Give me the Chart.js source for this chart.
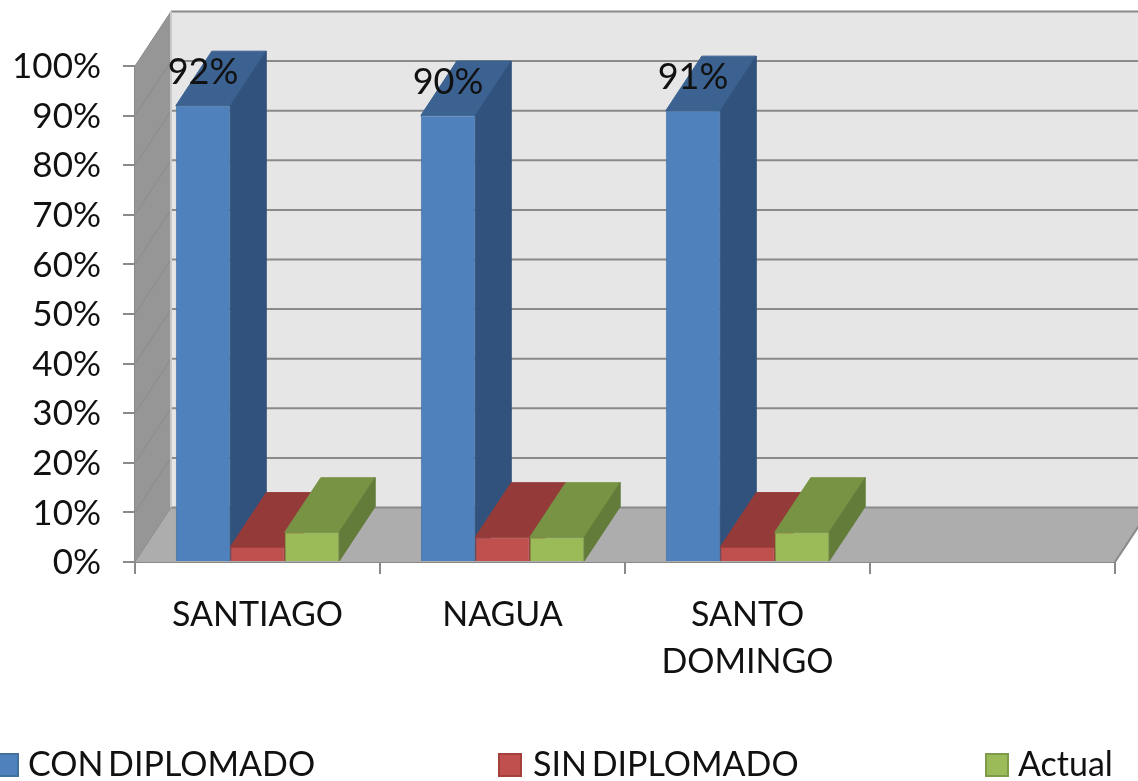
<!DOCTYPE html>
<html>
<head>
<meta charset="utf-8">
<style>
  body { margin: 0; background: #fff; }
  canvas { display: block; }
</style>
<script src="https://cdn.jsdelivr.net/npm/chart.js@4"></script>
</head>
<body>
<canvas id="chart" width="1138" height="781"></canvas>
<script>
// Chart data
const categories = ['SANTIAGO', 'NAGUA', ['SANTO', 'DOMINGO'], ''];
const conDiplomado = [92, 90, 91, null];
const sinDiplomado = [3, 5, 3, null];
const actual = [6, 5, 6, null];
const seriesNames = ['CON DIPLOMADO', 'SIN DIPLOMADO', 'Actual'];

// Colours per series: front, top and side faces
const frontColors = ['#4f81bd', '#c0504d', '#9bbb59'];
const edgeColors = ['#41719f', '#a53f3c', '#7f9a48'];
const topColors = ['#3b6291', '#943b39', '#789344'];
const sideColors = ['#30527c', '#7f3331', '#647c39'];

const FONT = 'Lato, "Open Sans", sans-serif';
const DEPTH_X = 36;
const DEPTH_Y = -54.5;

function poly(ctx, points, fill, stroke) {
    ctx.beginPath();
    points.forEach((p, i) => i ? ctx.lineTo(p[0], p[1]) : ctx.moveTo(p[0], p[1]));
    ctx.closePath();
    ctx.fillStyle = fill;
    ctx.fill();
    if (stroke) {
        ctx.strokeStyle = stroke;
        ctx.lineWidth = 1;
        ctx.stroke();
    }
}

// Walls, floor and the extruded faces of the bars
const box3d = {
    id: 'box3d',
    beforeDatasetsDraw(chart) {
        const { ctx, chartArea: a, scales: { y } } = chart;
        const backLeft = a.left + DEPTH_X;
        const backRight = a.right + DEPTH_X;
        const backTop = a.top + DEPTH_Y;
        const backBottom = a.bottom + DEPTH_Y;
        ctx.save();
        poly(ctx, [[backLeft, backTop], [backRight, backTop], [backRight, backBottom], [backLeft, backBottom]], '#e6e6e6');
        poly(ctx, [[a.left, a.top], [backLeft, backTop], [backLeft, backBottom], [a.left, a.bottom]], '#969696');
        poly(ctx, [[a.left, a.bottom], [backLeft, backBottom], [backRight, backBottom], [a.right, a.bottom]], '#adadad');

        // grid lines run along the left wall and across the back
        y.ticks.forEach(t => {
            const py = y.getPixelForValue(t.value);
            ctx.strokeStyle = '#8a8a8a';
            ctx.lineWidth = 1;
            ctx.beginPath();
            ctx.moveTo(a.left, py);
            ctx.lineTo(backLeft, py + DEPTH_Y);
            ctx.stroke();
            ctx.lineWidth = 2;
            ctx.beginPath();
            ctx.moveTo(backLeft, py + DEPTH_Y);
            ctx.lineTo(backRight, py + DEPTH_Y);
            ctx.stroke();
        });
        ctx.strokeStyle = '#c8c8c8';
        ctx.lineWidth = 2;
        ctx.beginPath();
        ctx.moveTo(backLeft, backTop);
        ctx.lineTo(backLeft, backBottom);
        ctx.stroke();
        ctx.strokeStyle = '#8a8a8a';
        ctx.lineWidth = 2;
        ctx.beginPath();
        ctx.moveTo(a.right, a.bottom);
        ctx.lineTo(backRight, backBottom);
        ctx.stroke();

        // series order keeps the later bars in front of the earlier ones
        chart.data.datasets.forEach((ds, i) => {
            chart.getDatasetMeta(i).data.forEach((bar, j) => {
                if (ds.data[j] === null) return;
                const left = bar.x - bar.width / 2;
                const right = bar.x + bar.width / 2;
                poly(ctx, [[left, bar.y], [right, bar.y], [right + DEPTH_X, bar.y + DEPTH_Y], [left + DEPTH_X, bar.y + DEPTH_Y]], topColors[i], topColors[i]);
                poly(ctx, [[right, bar.y], [right + DEPTH_X, bar.y + DEPTH_Y], [right + DEPTH_X, bar.base + DEPTH_Y], [right, bar.base]], sideColors[i], sideColors[i]);
            });
        });
        ctx.restore();
    },
    afterDatasetsDraw(chart) {
        const { ctx } = chart;
        ctx.save();
        ctx.fillStyle = '#111';
        ctx.font = '36px ' + FONT;
        ctx.textAlign = 'center';
        ctx.textBaseline = 'middle';
        chart.getDatasetMeta(0).data.forEach((bar, j) => {
            if (conDiplomado[j] === null) return;
            ctx.fillText(conDiplomado[j] + '%', bar.x, bar.y - 33);
        });

        // legend sits spread across the full width at the bottom
        const legendSwatch = [-4, 499, 986];
        const legendText = [28, 533, 1018];
        ctx.font = '34px ' + FONT;
        ctx.textAlign = 'left';
        ctx.wordSpacing = '-4px';
        seriesNames.forEach((name, i) => {
            ctx.fillStyle = frontColors[i];
            ctx.strokeStyle = edgeColors[i];
            ctx.lineWidth = 2;
            ctx.fillRect(legendSwatch[i], 754, 22, 22);
            ctx.strokeRect(legendSwatch[i], 754, 22, 22);
            ctx.fillStyle = '#111';
            ctx.fillText(name, legendText[i], 765);
        });
        ctx.restore();
    }
};

new Chart(document.getElementById('chart'), {
    type: 'bar',
    data: {
        labels: categories,
        datasets: [conDiplomado, sinDiplomado, actual].map((values, i) => ({
            label: seriesNames[i],
            data: values,
            backgroundColor: frontColors[i],
            borderColor: edgeColors[i],
            borderWidth: 1,
            categoryPercentage: 0.667,
            barPercentage: 1
        }))
    },
    options: {
        responsive: false,
        animation: false,
        layout: { padding: { top: 66, right: 23 } },
        plugins: { legend: { display: false }, tooltip: { enabled: false } },
        scales: {
            x: {
                afterFit(scale) { scale.height = 219; },
                border: { color: '#8a8a8a', width: 2 },
                grid: { drawOnChartArea: false, color: '#8a8a8a', lineWidth: 2, tickLength: 12 },
                ticks: { color: '#111', maxRotation: 0, autoSkip: false, padding: 17, font: { family: FONT, size: 34, lineHeight: 1.4 } }
            },
            y: {
                min: 0,
                max: 100,
                afterFit(scale) { scale.width = 135; },
                border: { color: '#8a8a8a', width: 2 },
                grid: { drawOnChartArea: false, color: '#8a8a8a', lineWidth: 2, tickLength: 12 },
                ticks: { stepSize: 10, color: '#111', padding: 22, labelOffset: 1, callback: v => v + '%', font: { family: FONT, size: 35 } }
            }
        }
    },
    plugins: [box3d]
});
</script>
</body>
</html>
